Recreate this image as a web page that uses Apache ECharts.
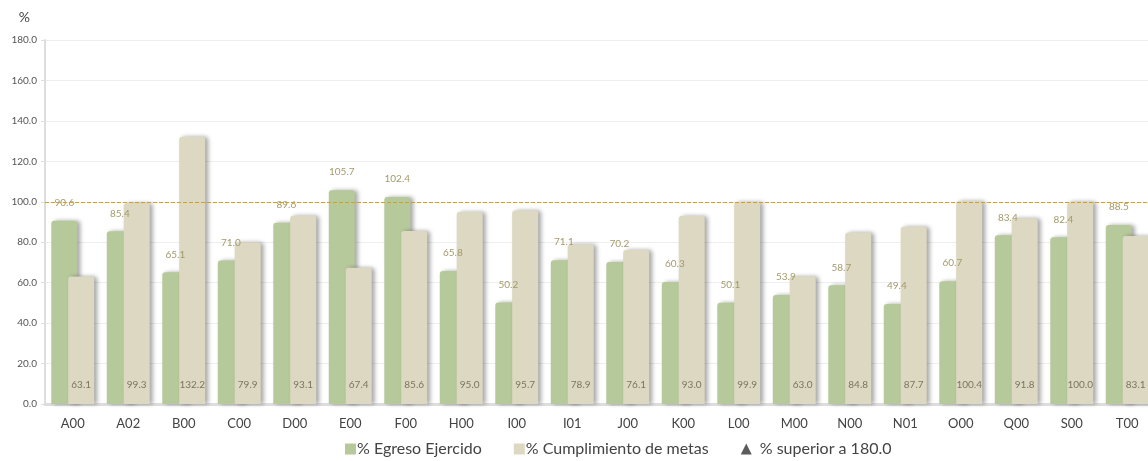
<!DOCTYPE html>
<html><head><meta charset="utf-8">
<script src="https://cdn.jsdelivr.net/npm/echarts@6/dist/echarts.min.js"></script>
<style>html,body{margin:0;padding:0;background:#fff;overflow:hidden}#c{width:1148px;height:461px}</style>
</head><body><div id="c"></div>
<script>
var categories = ["A00","A02","B00","C00","D00","E00","F00","H00","I00","I01","J00","K00","L00","M00","N00","N01","O00","Q00","S00","T00"];
var egreso = [90.6,85.4,65.1,71.0,89.6,105.7,102.4,65.8,50.2,71.1,70.2,60.3,50.1,53.9,58.7,49.4,60.7,83.4,82.4,88.5];
var cumplimiento = [63.1,99.3,132.2,79.9,93.1,67.4,85.6,95.0,95.7,78.9,76.1,93.0,99.9,63.0,84.8,87.7,100.4,91.8,100.0,83.1];
var superior = [];
var yTicks = [0,20,40,60,80,100,120,140,160,180];
var refLine = 100;

var chart = echarts.init(document.getElementById('c'));
var font = 'Lato';
chart.setOption({
  animation: false,
  textStyle: {fontFamily: font},
  grid: {left: 45, right: -7, top: 40, bottom: 57, containLabel: false, outerBoundsMode: 'none'},
  legend: {
    top: 436, left: 340, itemWidth: 11, itemHeight: 11, itemGap: 32,
    textStyle: {fontFamily: font, fontSize: 16, color: '#444', padding: [0,0,0,-4]},
    data: [
      {name: '% Egreso Ejercido', icon: 'rect'},
      {name: '% Cumplimiento de metas', icon: 'rect'},
      {name: '% superior a 180.0', icon: 'triangle', itemStyle: {color: '#333'},
       textStyle: {fontFamily: font, fontSize: 16, color: '#444', padding: [0,0,0,3]}}
    ]
  },
  xAxis: {
    type: 'category', data: categories,
    axisLine: {lineStyle: {color: '#ddd', width: 3}},
    axisTick: {show: false},
    axisLabel: {fontSize: 13, color: '#444', margin: 13, fontFamily: font}
  },
  yAxis: {
    type: 'value', min: yTicks[0], max: yTicks[yTicks.length-1], interval: 20,
    name: '%', nameLocation: 'end', nameGap: 16,
    nameTextStyle: {fontSize: 14, color: '#444', align: 'right', padding: [0, 15, 0, 0], fontFamily: font},
    axisLine: {show: true, lineStyle: {color: '#ddd', width: 2}},
    axisTick: {show: true, length: 4, lineStyle: {color: '#ddd'}},
    axisLabel: {fontSize: 10, color: '#555', margin: 8, formatter: function(v){return v.toFixed(1);}, fontFamily: font},
    splitLine: {lineStyle: {color: '#eeeeee', width: 1}}
  },
  series: [
    {
      name: '% Egreso Ejercido', type: 'bar', data: egreso,
      barWidth: 26, barGap: '-35%',
      itemStyle: {color: '#b6c99b', borderRadius: [3,3,0,0], shadowColor: 'rgba(0,0,0,0.35)', shadowBlur: 4, shadowOffsetX: 3, shadowOffsetY: 0},
      label: {show: true, position: 'top', distance: 13, fontSize: 10, color: '#a39a6b', fontFamily: font, formatter: function(p){return p.value.toFixed(1);}},
      markLine: {
        silent: true, symbol: 'none',
        lineStyle: {color: '#d4a020', type: [4,2], width: 1},
        label: {show: false},
        data: [{yAxis: refLine}]
      }
    },
    {
      name: '% Cumplimiento de metas', type: 'bar', data: cumplimiento,
      barWidth: 26,
      itemStyle: {color: '#ddd8c1', borderRadius: [3,3,0,0], shadowColor: 'rgba(0,0,0,0.35)', shadowBlur: 4, shadowOffsetX: 3, shadowOffsetY: 0},
      label: {show: true, position: 'insideBottom', distance: 14, fontSize: 10, color: '#7a7560', fontFamily: font, formatter: function(p){return p.value.toFixed(1);}}
    },
    {
      name: '% superior a 180.0', type: 'scatter', data: superior,
      symbol: 'triangle', itemStyle: {color: '#333'}
    }
  ]
});
</script></body></html>
